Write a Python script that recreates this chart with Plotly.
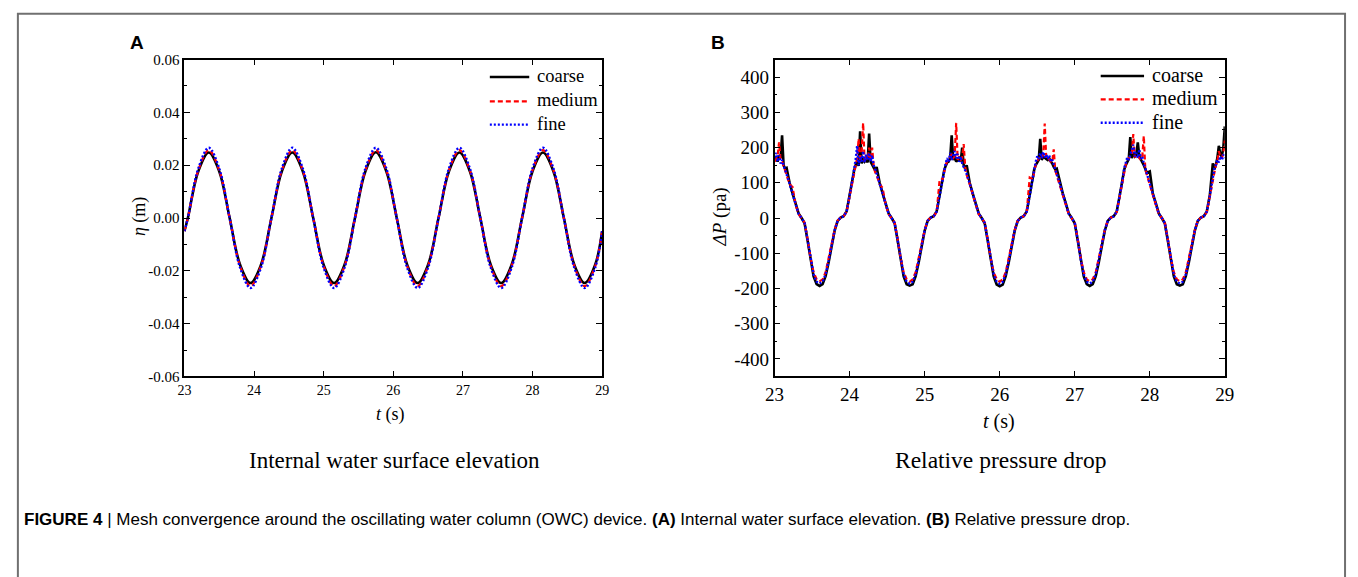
import plotly.graph_objects as go

# ---------------- data: internal water surface elevation (panel A) ----------------
t_eta = [23.0, 23.05, 23.2, 23.35, 23.5, 23.65, 23.8, 23.95, 24.1, 24.25, 24.4, 24.55,
         24.7, 24.85, 25.0, 25.15, 25.3, 25.45, 25.6, 25.75, 25.9, 26.05, 26.2, 26.35,
         26.5, 26.65, 26.8, 26.95, 27.1, 27.25, 27.4, 27.55, 27.7, 27.85, 28.0, 28.15,
         28.3, 28.45, 28.6, 28.75, 28.9, 29.0]
eta_coarse = [-0.005, 0.0, 0.0177, 0.0248, 0.0177, 0.0, -0.0177, -0.0246, -0.0177, 0.0, 0.0177, 0.0248,
              0.0177, 0.0, -0.0177, -0.0246, -0.0177, 0.0, 0.0177, 0.0249, 0.0177, 0.0, -0.0177, -0.0246,
              -0.0177, 0.0, 0.0177, 0.0248, 0.0177, 0.0, -0.0177, -0.0246, -0.0177, 0.0, 0.0177, 0.0248,
              0.0177, 0.0, -0.0177, -0.0246, -0.0177, -0.005]
eta_medium = [-0.005, 0.0, 0.0181, 0.0257, 0.0181, 0.0, -0.0182, -0.0258, -0.0182, 0.0, 0.0181, 0.0257,
              0.0181, 0.0, -0.0182, -0.0258, -0.0182, 0.0, 0.0181, 0.0257, 0.0181, 0.0, -0.0182, -0.0258,
              -0.0182, 0.0, 0.0181, 0.0257, 0.0181, 0.0, -0.0182, -0.0258, -0.0182, 0.0, 0.0181, 0.0257,
              0.0181, 0.0, -0.0182, -0.0258, -0.0182, -0.005]
eta_fine = [-0.005, 0.0, 0.0188, 0.0266, 0.0188, 0.0, -0.0188, -0.0265, -0.0188, 0.0, 0.0188, 0.0266,
            0.0188, 0.0, -0.0188, -0.0265, -0.0188, 0.0, 0.0188, 0.0266, 0.0188, 0.0, -0.0188, -0.0265,
            -0.0188, 0.0, 0.0188, 0.0266, 0.0188, 0.0, -0.0188, -0.0265, -0.0188, 0.0, 0.0188, 0.0266,
            0.0188, 0.0, -0.0188, -0.0265, -0.0188, -0.005]
eta_ticks = [-0.06, -0.04, -0.02, 0.0, 0.02, 0.04, 0.06]
eta_tick_labels = ["-0.06", "-0.04", "-0.02", "0.00", "0.02", "0.04", "0.06"]
eta_minor = [-0.05, -0.03, -0.01, 0.01, 0.03, 0.05]

# ---------------- data: relative pressure drop (panel B) ----------------
t_p = [
    23.00, 23.02, 23.04, 23.06, 23.08, 23.10, 23.12, 23.14,
    23.16, 23.20, 23.24, 23.28, 23.32, 23.36, 23.40, 23.44, 23.48, 23.52, 23.56, 23.60,
    23.64, 23.68, 23.72, 23.76, 23.80, 23.84, 23.88, 23.92, 23.96, 24.00, 24.04,
    24.06, 24.08, 24.10, 24.12, 24.14, 24.16, 24.18, 24.20, 24.22, 24.24, 24.26, 24.28, 24.30, 24.32, 24.34,
    24.36, 24.40, 24.44, 24.48, 24.52, 24.56, 24.60, 24.64, 24.68, 24.72, 24.76, 24.80,
    24.84, 24.88, 24.92, 24.96, 25.00, 25.04, 25.08, 25.12, 25.16, 25.20, 25.24,
    25.26, 25.28, 25.30, 25.32, 25.34, 25.36, 25.38, 25.40, 25.42, 25.44, 25.46, 25.48, 25.50, 25.52, 25.54,
    25.56, 25.60, 25.64, 25.68, 25.72, 25.76, 25.80, 25.84, 25.88, 25.92, 25.96, 26.00,
    26.04, 26.08, 26.12, 26.16, 26.20, 26.24, 26.28, 26.32, 26.36, 26.40, 26.44,
    26.46, 26.48, 26.50, 26.52, 26.54, 26.56, 26.58, 26.60, 26.62, 26.64, 26.66, 26.68, 26.70, 26.72, 26.74,
    26.76, 26.80, 26.84, 26.88, 26.92, 26.96, 27.00, 27.04, 27.08, 27.12, 27.16, 27.20,
    27.24, 27.28, 27.32, 27.36, 27.40, 27.44, 27.48, 27.52, 27.56, 27.60, 27.64,
    27.66, 27.68, 27.70, 27.72, 27.74, 27.76, 27.78, 27.80, 27.82, 27.84, 27.86, 27.88, 27.90, 27.92, 27.94,
    27.96, 28.00, 28.04, 28.08, 28.12, 28.16, 28.20, 28.24, 28.28, 28.32, 28.36, 28.40,
    28.44, 28.48, 28.52, 28.56, 28.60, 28.64, 28.68, 28.72, 28.76, 28.80, 28.84,
    28.86, 28.88, 28.90, 28.92, 28.94, 28.96, 28.98, 29.00,
]
dp_coarse = [
    165, 175, 160, 178, 170, 235, 150, 140,
    142, 100, 70, 42, 13, 0, -15, -64, -122, -166, -188, -193, -188, -165, -126, -79, -36, -8, 1, 5, 19, 65, 115,
    135, 150, 160, 148, 246, 155, 170, 160, 165, 158, 240, 160, 150, 145, 135,
    145, 100, 70, 42, 13, 0, -15, -64, -122, -166, -188, -192, -188, -165, -126, -79, -36, -8, 1, 5, 19, 65, 115,
    135, 148, 158, 160, 170, 235, 165, 175, 160, 165, 170, 160, 200, 150, 140,
    150, 100, 70, 42, 13, 0, -15, -64, -122, -166, -189, -194, -189, -165, -126, -79, -36, -8, 1, 5, 19, 65, 115,
    138, 150, 160, 165, 225, 165, 175, 170, 168, 165, 170, 160, 155, 145, 138,
    140, 100, 70, 42, 13, 0, -15, -64, -122, -166, -188, -193, -188, -165, -126, -79, -36, -8, 1, 5, 19, 65, 115,
    138, 150, 160, 168, 230, 170, 185, 175, 180, 215, 175, 168, 160, 150, 140,
    128, 132, 70, 42, 13, 0, -15, -64, -122, -166, -188, -192, -188, -165, -126, -79, -36, -8, 1, 5, 19, 65, 155,
    138, 150, 170, 205, 180, 175, 200, 260,
]
dp_medium = [
    160, 170, 175, 215, 165, 160, 150, 135,
    122, 96, 88, 38, 11, 0, -13, -60, -114, -154, -174, -180, -174, -154, -118, -74, -34, -7, 1, 5, 17, 61, 110,
    132, 155, 170, 225, 160, 185, 270, 160, 175, 165, 200, 165, 200, 150, 130,
    122, 96, 85, 38, 11, 0, -13, -60, -114, -154, -174, -181, -174, -154, -118, -74, -34, -7, 1, 5, 17, 110, 110,
    132, 150, 160, 165, 175, 180, 170, 175, 270, 165, 175, 165, 170, 210, 145,
    122, 96, 66, 38, 11, 0, -13, -60, -114, -154, -174, -181, -174, -154, -118, -74, -34, -7, 1, 5, 17, 115, 110,
    135, 152, 162, 168, 175, 170, 180, 268, 170, 172, 165, 160, 158, 195, 135,
    122, 96, 66, 38, 11, 0, -13, -60, -114, -154, -174, -180, -174, -154, -118, -74, -34, -7, 1, 5, 17, 61, 110,
    135, 152, 165, 170, 175, 180, 238, 172, 180, 175, 170, 165, 175, 233, 138,
    122, 96, 66, 38, 11, 0, -13, -60, -114, -154, -174, -180, -174, -154, -118, -74, -34, -7, 1, 5, 17, 61, 110,
    135, 150, 160, 190, 175, 170, 185, 220,
]
dp_fine = [
    170, 185, 160, 178, 155, 165, 150, 138,
    125, 98, 68, 40, 12, 0, -14, -62, -118, -160, -181, -186, -181, -160, -122, -76, -35, -8, 1, 5, 18, 63, 112,
    140, 165, 205, 150, 175, 160, 190, 158, 180, 165, 185, 160, 178, 150, 140,
    125, 98, 68, 40, 12, 0, -14, -62, -118, -160, -181, -187, -181, -160, -122, -76, -35, -8, 1, 5, 18, 63, 112,
    140, 155, 170, 160, 185, 165, 178, 190, 170, 182, 160, 175, 155, 145, 135,
    125, 98, 68, 40, 12, 0, -14, -62, -118, -160, -181, -187, -181, -160, -122, -76, -35, -8, 1, 5, 18, 63, 112,
    142, 160, 175, 168, 185, 170, 188, 172, 180, 168, 178, 160, 165, 150, 138,
    125, 98, 68, 40, 12, 0, -14, -62, -118, -160, -181, -186, -181, -160, -122, -76, -35, -8, 1, 5, 18, 63, 112,
    142, 158, 172, 165, 180, 190, 208, 175, 185, 170, 195, 168, 175, 155, 140,
    125, 98, 68, 40, 12, 0, -14, -62, -118, -160, -181, -186, -181, -160, -122, -76, -35, -8, 1, 5, 18, 63, 112,
    140, 150, 165, 158, 175, 165, 180, 170,
]
dp_ticks = [-400, -300, -200, -100, 0, 100, 200, 300, 400]
dp_tick_labels = ["-400", "-300", "-200", "-100", "0", "100", "200", "300", "400"]
dp_minor = [-350, -250, -150, -50, 50, 150, 250, 350]

t_ticks = [23, 24, 25, 26, 27, 28, 29]
series_names = ["coarse", "medium", "fine"]

# ---------------- figure ----------------
W, H = 1358, 577
def fx(x):
    return x / W
def fy(y):
    return 1 - y / H

SERIF = "Liberation Serif, Times New Roman, serif"
SANS = "Liberation Sans, Arial, sans-serif"

styles = [
    dict(color="#000000", width=2.6, dash="solid"),
    dict(color="#ff0000", width=2.2, dash="5px,3px"),
    dict(color="#0000ff", width=2.4, dash="2px,2px"),
]

fig = go.Figure()
for name, vals, st in zip(series_names, [eta_coarse, eta_medium, eta_fine], styles):
    fig.add_trace(go.Scatter(x=t_eta, y=vals, mode="lines", name=name,
                             line=dict(shape="spline", **st),
                             xaxis="x", yaxis="y", showlegend=False))
for name, vals, st in zip(series_names, [dp_coarse, dp_medium, dp_fine], styles):
    fig.add_trace(go.Scatter(x=t_p, y=vals, mode="lines", name=name,
                             line=dict(**st),
                             xaxis="x2", yaxis="y2", showlegend=False))

def xax(domain, anchor, size):
    return dict(domain=domain, anchor=anchor, range=[23, 29], tickmode="array",
                tickvals=t_ticks, ticktext=[str(v) for v in t_ticks],
                showline=True, linecolor="black", linewidth=1.6, mirror="allticks",
                ticks="inside", ticklen=6, tickwidth=1.4, tickcolor="black",
                tickfont=dict(family=SERIF, size=size, color="black"),
                showgrid=False, zeroline=False)

def yax(domain, anchor, rng, tv, tt, minor, size):
    return dict(domain=domain, anchor=anchor, range=rng, tickmode="array",
                tickvals=tv, ticktext=tt,
                showline=True, linecolor="black", linewidth=1.6, mirror="allticks",
                ticks="inside", ticklen=6, tickwidth=1.4, tickcolor="black",
                minor=dict(tickmode="array", tickvals=minor, ticks="inside", ticklen=3,
                           tickwidth=1.2, tickcolor="black", showgrid=False),
                tickfont=dict(family=SERIF, size=size, color="black"),
                showgrid=False, zeroline=False)

ydom = [fy(379), fy(53)]
fig.update_layout(
    width=W, height=H,
    margin=dict(l=0, r=0, t=0, b=0),
    paper_bgcolor="white", plot_bgcolor="white",
    showlegend=False,
    xaxis=xax([fx(177), fx(601)], "y", 14),
    yaxis=yax(ydom, "x", [-0.06, 0.06], eta_ticks, eta_tick_labels, eta_minor, 15),
    xaxis2=xax([fx(776), fx(1233)], "y2", 19),
    yaxis2=yax(ydom, "x2", [-450, 450], dp_ticks, dp_tick_labels, dp_minor, 19),
)

# legend keys (one per panel), drawn in paper coordinates
legend_panels = [
    dict(x0=487, x1=527, tx=533, ys=[71, 96, 120], size=18.5),
    dict(x0=1107, x1=1151, tx=1157, ys=[70, 94, 118], size=20),
]
for lp in legend_panels:
    for name, st, yy in zip(series_names, styles, lp["ys"]):
        fig.add_shape(type="line", xref="paper", yref="paper",
                      x0=fx(lp["x0"]), x1=fx(lp["x1"]), y0=fy(yy), y1=fy(yy),
                      line=dict(color=st["color"], width=st["width"], dash=st["dash"]))
        fig.add_annotation(text=name, x=fx(lp["tx"]), y=fy(yy - 1), xref="paper", yref="paper",
                           showarrow=False, xanchor="left", yanchor="middle",
                           font=dict(family=SERIF, size=lp["size"], color="black"))

ann = [
    dict(text="<b>A</b>", x=fx(128.5), y=fy(35.5), font=dict(family=SANS, size=19)),
    dict(text="<b>B</b>", x=fx(719), y=fy(35.5), font=dict(family=SANS, size=19)),
    dict(text="<i>η</i> (m)", x=fx(131), y=fy(215), textangle=-90, font=dict(family=SERIF, size=18)),
    dict(text="<i>t</i> (s)", x=fx(386), y=fy(418), font=dict(family=SERIF, size=18)),
    dict(text="<i>ΔP</i> (pa)", x=fx(721), y=fy(215), textangle=-90, font=dict(family=SERIF, size=19)),
    dict(text="<i>t</i> (s)", x=fx(1004), y=fy(425), font=dict(family=SERIF, size=20)),
    dict(text="Internal water surface elevation", x=fx(390), y=fy(465), font=dict(family=SERIF, size=23)),
    dict(text="Relative pressure drop", x=fx(1005), y=fy(465), font=dict(family=SERIF, size=23.5)),
]
for a in ann:
    a.update(xref="paper", yref="paper", showarrow=False, xanchor="center", yanchor="middle")
    a["font"]["color"] = "black"
    fig.add_annotation(**a)

fig.add_annotation(
    text="<b>FIGURE 4</b> | Mesh convergence around the oscillating water column (OWC) device. "
         "<b>(A)</b> Internal water surface elevation. <b>(B)</b> Relative pressure drop.",
    x=fx(12), y=fy(526), xref="paper", yref="paper", showarrow=False,
    xanchor="left", yanchor="middle",
    font=dict(family=SANS, size=17, color="black"),
)

fig.add_shape(type="rect", xref="paper", yref="paper",
              x0=fx(8), x1=fx(1355), y0=-0.05, y1=fy(6),
              line=dict(color="#707070", width=2), fillcolor="rgba(0,0,0,0)", layer="below")

fig.write_html("out.html",
               config={"displayModeBar": False},
               post_script="document.body.style.margin='0px';document.body.style.overflow='hidden';")
